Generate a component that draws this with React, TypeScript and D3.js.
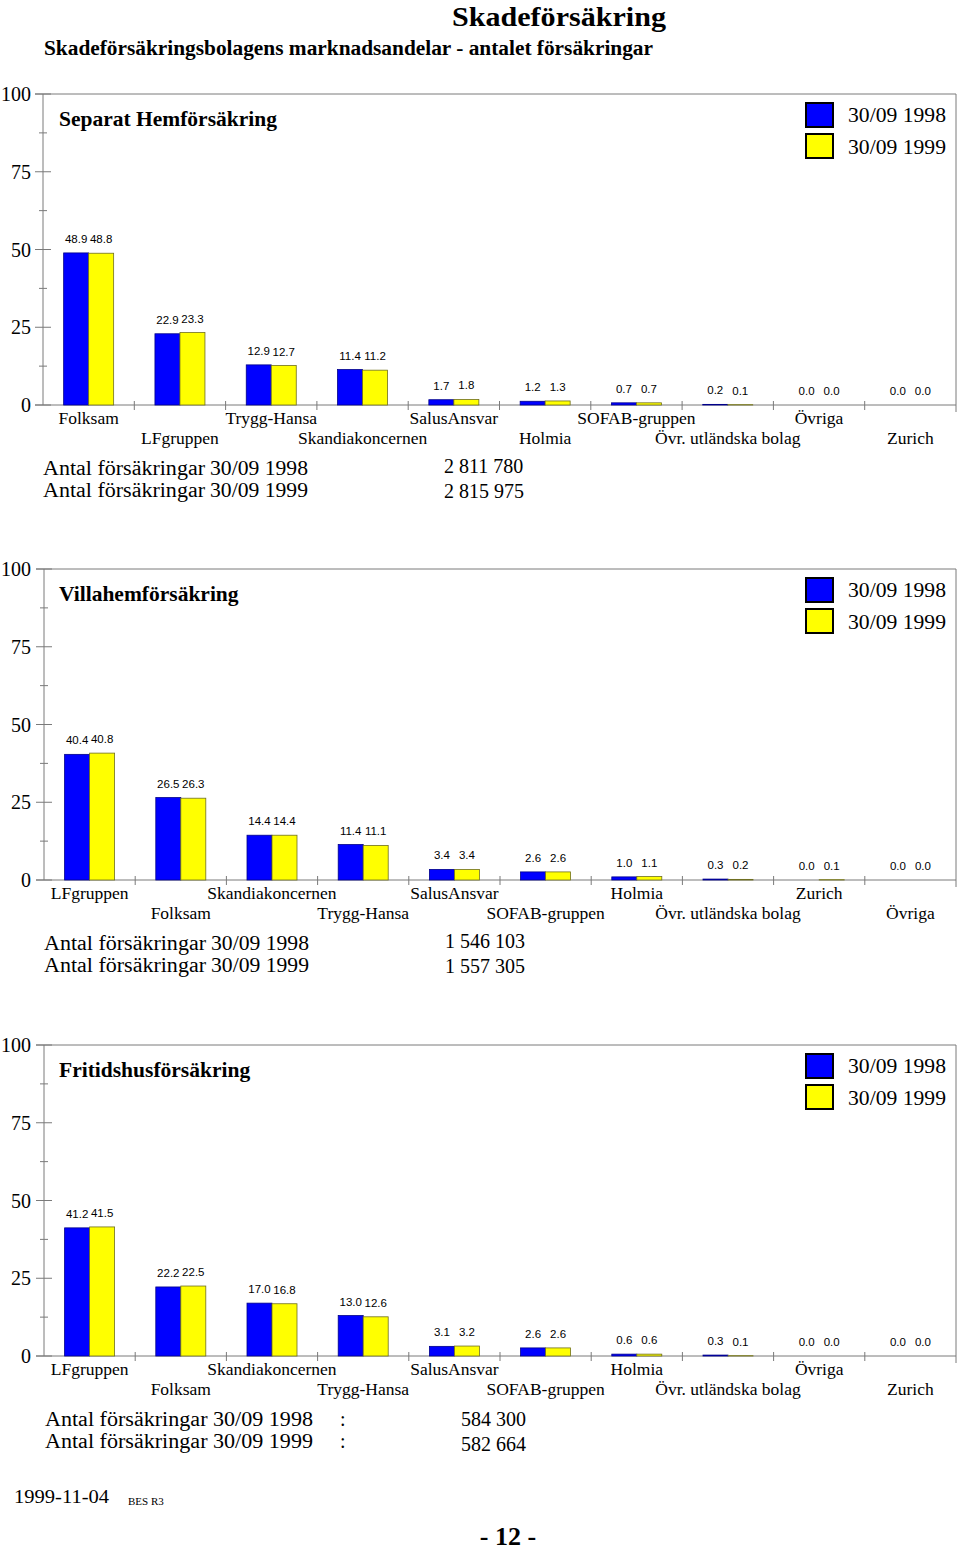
import React from "react";
import * as d3 from "d3";

const seriesNames = ["30/09 1998", "30/09 1999"];
const seriesColors = ["#0000ff", "#ffff00"];
const yTicksMajor = [0, 25, 50, 75, 100];
const yTicksMinor = [12.5, 37.5, 62.5, 87.5];

const cats1 = ["Folksam", "LFgruppen", "Trygg-Hansa", "Skandiakoncernen", "SalusAnsvar", "Holmia", "SOFAB-gruppen", "Övr. utländska bolag", "Övriga", "Zurich"];
const vals1_1998 = [48.9, 22.9, 12.9, 11.4, 1.7, 1.2, 0.7, 0.2, 0.0, 0.0];
const vals1_1999 = [48.8, 23.3, 12.7, 11.2, 1.8, 1.3, 0.7, 0.1, 0.0, 0.0];

const cats2 = ["LFgruppen", "Folksam", "Skandiakoncernen", "Trygg-Hansa", "SalusAnsvar", "SOFAB-gruppen", "Holmia", "Övr. utländska bolag", "Zurich", "Övriga"];
const vals2_1998 = [40.4, 26.5, 14.4, 11.4, 3.4, 2.6, 1.0, 0.3, 0.0, 0.0];
const vals2_1999 = [40.8, 26.3, 14.4, 11.1, 3.4, 2.6, 1.1, 0.2, 0.1, 0.0];

const cats3 = ["LFgruppen", "Folksam", "Skandiakoncernen", "Trygg-Hansa", "SalusAnsvar", "SOFAB-gruppen", "Holmia", "Övr. utländska bolag", "Övriga", "Zurich"];
const vals3_1998 = [41.2, 22.2, 17.0, 13.0, 3.1, 2.6, 0.6, 0.3, 0.0, 0.0];
const vals3_1999 = [41.5, 22.5, 16.8, 12.6, 3.2, 2.6, 0.6, 0.1, 0.0, 0.0];

const titles = ["Separat Hemförsäkring", "Villahemförsäkring", "Fritidshusförsäkring"];
const totals1 = ["2 811 780", "2 815 975"];
const totals2 = ["1 546 103", "1 557 305"];
const totals3 = ["584 300", "582 664"];

const SERIF = "'Liberation Serif', 'Times New Roman', serif";
const SANS = "'Liberation Sans', Arial, sans-serif";
const AXIS = "#7a7a7a";

type ChartProps = {
  cats: string[];
  v98: number[];
  v99: number[];
  title: string;
  totals: string[];
  top: number;
  x0: number;
  variant: number;
};

function Chart({ cats, v98, v99, title, totals, top, x0, variant }: ChartProps) {
  const plotH = 311;
  const y0 = top + plotH;
  const xRight = 956;
  const x = d3.scaleBand<string>().domain(cats).range([x0, xRight]);
  const bw = x.bandwidth();
  const xs = d3.scaleBand<string>().domain(seriesNames).range([bw / 2 - 25, bw / 2 + 25]);
  const y = d3.scaleLinear().domain([0, 100]).range([y0, top]);
  const series = [v98, v99];

  return (
    <g>
      <line x1={x0 - 8} x2={xRight} y1={top} y2={top} stroke={AXIS} strokeWidth={1} />
      <line x1={xRight} x2={xRight} y1={top} y2={y0 + 7} stroke={AXIS} strokeWidth={1} />
      <line x1={x0} x2={x0} y1={top} y2={y0} stroke={AXIS} strokeWidth={1} />
      <line x1={x0 - 8} x2={xRight} y1={y0} y2={y0} stroke={AXIS} strokeWidth={1} />
      {yTicksMajor.map((t) => (
        <g key={"M" + t}>
          <line x1={x0 - 8} x2={x0 + 8} y1={y(t)} y2={y(t)} stroke={AXIS} strokeWidth={1} />
          <text x={31} y={y(t) + 7} textAnchor="end" fontFamily={SERIF} fontSize={20} fill="#000">{t}</text>
        </g>
      ))}
      {yTicksMinor.map((t) => (
        <line key={"m" + t} x1={x0 - 4} x2={x0 + 4} y1={y(t)} y2={y(t)} stroke={AXIS} strokeWidth={1} />
      ))}
      {cats.slice(1).map((c) => (
        <line key={"xt" + c} x1={x(c)!} x2={x(c)!} y1={y0 - 4} y2={y0 + 5} stroke={AXIS} strokeWidth={1} />
      ))}
      {cats.map((c, i) => (
        <g key={"b" + c}>
          {series.map((s, k) => {
            const bx = x(c)! + xs(seriesNames[k])!;
            const v = s[i];
            return (
              <g key={k}>
                <rect x={bx} y={y(v)} width={xs.bandwidth()} height={y0 - y(v)} fill={seriesColors[k]}
                  stroke={k === 0 ? "#00008a" : "#6e6e20"} strokeWidth={0.8} />
                <text x={bx + xs.bandwidth() / 2} y={y(v) - 10} textAnchor="middle" fontFamily={SANS} fontSize={11.5} fill="#000">
                  {v.toFixed(1)}
                </text>
              </g>
            );
          })}
        </g>
      ))}
      {cats.map((c, i) => (
        <text key={"l" + c} x={x(c)! + bw / 2} y={y0 + (i % 2 === 0 ? 19 : 39)} textAnchor="middle"
          fontFamily={SERIF} fontSize={17.5} fill="#000">{c}</text>
      ))}
      <text x={59} y={top + 32} fontFamily={SERIF} fontSize={21.5} fontWeight="bold" fill="#000">{title}</text>
      {seriesNames.map((n, k) => (
        <g key={"lg" + n}>
          <rect x={806} y={top + 9 + k * 31} width={27} height={24} fill={seriesColors[k]} stroke="#000" strokeWidth={2} />
          <text x={848} y={top + 28 + k * 32} fontFamily={SERIF} fontSize={20.5} fill="#000"
            textLength={98} lengthAdjust="spacingAndGlyphs">{n}</text>
        </g>
      ))}
      {seriesNames.map((n, k) => {
        const by = y0 + 70 + k * 22;
        if (variant === 3) {
          return (
            <g key={"t" + n}>
              <text x={x0 + 1} y={by} fontFamily={SERIF} fontSize={20.5} fill="#000"
                textLength={268} lengthAdjust="spacingAndGlyphs">{"Antal försäkringar " + n}</text>
              <text x={340} y={by} fontFamily={SERIF} fontSize={20} fill="#000">:</text>
              <text x={461} y={by + (k === 1 ? 3 : 0)} fontFamily={SERIF} fontSize={20} fill="#000">{totals[k]}</text>
            </g>
          );
        }
        return (
          <g key={"t" + n}>
            <text x={x0} y={by} fontFamily={SERIF} fontSize={20.5} fill="#000"
              textLength={162} lengthAdjust="spacingAndGlyphs">Antal försäkringar</text>
            <text x={x0 + 167} y={by} fontFamily={SERIF} fontSize={20.5} fill="#000"
              textLength={98} lengthAdjust="spacingAndGlyphs">{n}</text>
            <text x={x0 + 401} y={by - 2 + (k === 1 ? 3 : 0)} fontFamily={SERIF} fontSize={20} fill="#000">{totals[k]}</text>
          </g>
        );
      })}
    </g>
  );
}

export default function App() {
  return (
    <svg width={960} height={1551} style={{ position: "absolute", left: 0, top: 0, background: "#fff" }}
      xmlns="http://www.w3.org/2000/svg">
      <rect x={0} y={0} width={960} height={1551} fill="#fff" />
      <text x={559} y={26} textAnchor="middle" fontFamily={SERIF} fontSize={28} fontWeight="bold" fill="#000"
        textLength={214} lengthAdjust="spacingAndGlyphs">Skadeförsäkring</text>
      <text x={44} y={55} fontFamily={SERIF} fontSize={20} fontWeight="bold" fill="#000"
        textLength={609} lengthAdjust="spacingAndGlyphs">Skadeförsäkringsbolagens marknadsandelar - antalet försäkringar</text>
      <Chart cats={cats1} v98={vals1_1998} v99={vals1_1999} title={titles[0]} totals={totals1} top={94} x0={43} variant={1} />
      <Chart cats={cats2} v98={vals2_1998} v99={vals2_1999} title={titles[1]} totals={totals2} top={569} x0={44} variant={2} />
      <Chart cats={cats3} v98={vals3_1998} v99={vals3_1999} title={titles[2]} totals={totals3} top={1045} x0={44} variant={3} />
      <text x={14} y={1503} fontFamily={SERIF} fontSize={19.5} fill="#000" textLength={95} lengthAdjust="spacingAndGlyphs">1999-11-04</text>
      <text x={128} y={1505} fontFamily={SERIF} fontSize={11} fill="#000">BES R3</text>
      <text x={508} y={1545} textAnchor="middle" fontFamily={SERIF} fontSize={26} fontWeight="bold" fill="#000">- 12 -</text>
    </svg>
  );
}
